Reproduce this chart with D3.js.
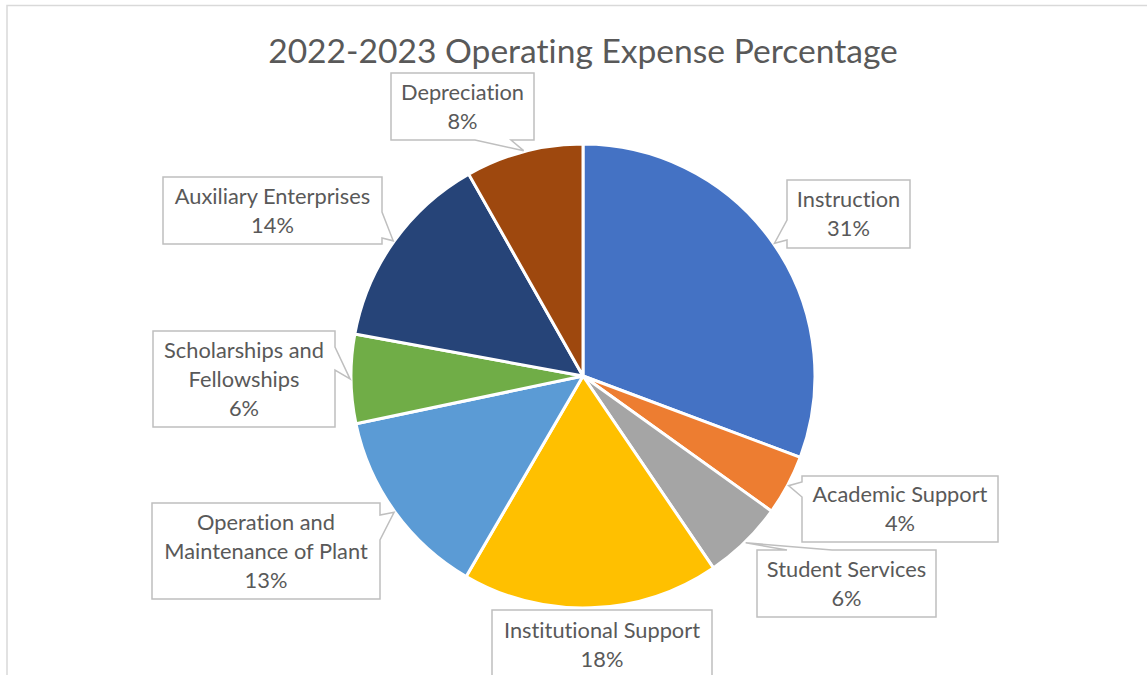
<!DOCTYPE html>
<html>
<head>
<meta charset="utf-8">
<script src="https://cdn.jsdelivr.net/npm/d3@7"></script>
<style>
  html, body { margin: 0; padding: 0; background: #fff; }
  svg { display: block; }
  text { font-variant-ligatures: none; font-feature-settings: "liga" 0, "clig" 0; }
</style>
</head>
<body>
<svg id="chart" width="1147" height="675"></svg>
<script>
// ---- data ----
const title = "2022-2023 Operating Expense Percentage";
const categories = [
  "Instruction",
  "Academic Support",
  "Student Services",
  "Institutional Support",
  "Operation and Maintenance of Plant",
  "Scholarships and Fellowships",
  "Auxiliary Enterprises",
  "Depreciation"
];
const values = [30.7, 4.2, 5.6, 17.9, 13.3, 6.2, 13.9, 8.2];
const colors = ["#4472C4", "#ED7D31", "#A5A5A5", "#FFC000", "#5B9BD5", "#70AD47", "#264478", "#9E480E"];

// ---- layout (label callouts) ----
const labelLines = [
  ["Instruction"],
  ["Academic Support"],
  ["Student Services"],
  ["Institutional Support"],
  ["Operation and", "Maintenance of Plant"],
  ["Scholarships and", "Fellowships"],
  ["Auxiliary Enterprises"],
  ["Depreciation"]
];
const calloutBoxes = [
  {x: 787, y: 180, w: 123, h: 68, side: "left",   base: [220, 240]},
  {x: 802, y: 476, w: 196, h: 66, side: "left",   base: [482, 497]},
  {x: 757, y: 550, w: 179, h: 67, side: "top",    base: [787, 832]},
  {x: 492, y: 610, w: 220, h: 70, side: null,     base: null},
  {x: 152, y: 503, w: 228, h: 96, side: "right",  base: [515, 540]},
  {x: 153, y: 331, w: 182, h: 96, side: "right",  base: [347, 370]},
  {x: 163, y: 177, w: 219, h: 67, side: "right",  base: [212, 238]},
  {x: 391, y: 73,  w: 143, h: 67, side: "bottom", base: [475, 511]}
];

const svg = d3.select("#chart");
const W = 1147, H = 675;
const cx = 583, cy = 376, R = 232;
const fontFamily = "Lato, 'Open Sans', sans-serif";
const textColor = "#595959";

// chart area border
svg.append("rect")
  .attr("x", 7).attr("y", 5.5)
  .attr("width", W + 10).attr("height", H + 10)
  .attr("fill", "#fff")
  .attr("stroke", "#d9d9d9").attr("stroke-width", 1.5);

// title
svg.append("text")
  .attr("x", cx).attr("y", 63)
  .attr("text-anchor", "middle")
  .attr("font-family", fontFamily)
  .attr("font-size", 33.6)
  .attr("fill", textColor)
  .text(title);

const data = categories.map((c, i) => ({name: c, value: values[i], color: colors[i], i}));
const total = d3.sum(values);
const pct = d3.format(".0%");

const pie = d3.pie().sort(null).value(d => d.value);
const arcs = pie(data);
const arc = d3.arc().innerRadius(0).outerRadius(R);
const tipArc = d3.arc().innerRadius(R + 1).outerRadius(R + 1);

const g = svg.append("g").attr("transform", `translate(${cx},${cy})`);
g.selectAll("path.slice")
  .data(arcs)
  .join("path")
  .attr("class", "slice")
  .attr("d", arc)
  .attr("fill", d => d.data.color)
  .attr("stroke", "#fff")
  .attr("stroke-width", 3)
  .attr("stroke-linejoin", "round");

// callouts
function calloutPath(b, tip) {
  const x0 = b.x, y0 = b.y, x1 = b.x + b.w, y1 = b.y + b.h;
  const p = [];
  p.push([x0, y0]);
  if (b.side === "top") { p.push([b.base[0], y0], tip, [b.base[1], y0]); }
  p.push([x1, y0]);
  if (b.side === "right") { p.push([x1, b.base[0]], tip, [x1, b.base[1]]); }
  p.push([x1, y1]);
  if (b.side === "bottom") { p.push([b.base[1], y1], tip, [b.base[0], y1]); }
  p.push([x0, y1]);
  if (b.side === "left") { p.push([x0, b.base[1]], tip, [x0, b.base[0]]); }
  return "M" + p.map(q => q[0] + "," + q[1]).join("L") + "Z";
}

const lab = svg.append("g");
arcs.forEach((a, i) => {
  const b = calloutBoxes[i];
  const c = tipArc.centroid(a);
  const tip = [cx + c[0], cy + c[1]];
  lab.append("path")
    .attr("d", calloutPath(b, tip))
    .attr("fill", "#fff")
    .attr("stroke", "#bfbfbf")
    .attr("stroke-width", 1.5)
    .attr("stroke-linejoin", "miter");
  const lines = labelLines[i].concat([pct(a.data.value / total)]);
  const lh = 29;
  const startY = b.y + b.h / 2 - (lines.length - 1) * lh / 2 + 7.5;
  const t = lab.append("text")
    .attr("text-anchor", "middle")
    .attr("font-family", fontFamily)
    .attr("font-size", 21.8)
    .attr("fill", textColor);
  lines.forEach((ln, k) => {
    t.append("tspan")
      .attr("x", b.x + b.w / 2)
      .attr("y", startY + k * lh)
      .text(ln);
  });
});
</script>
</body>
</html>
